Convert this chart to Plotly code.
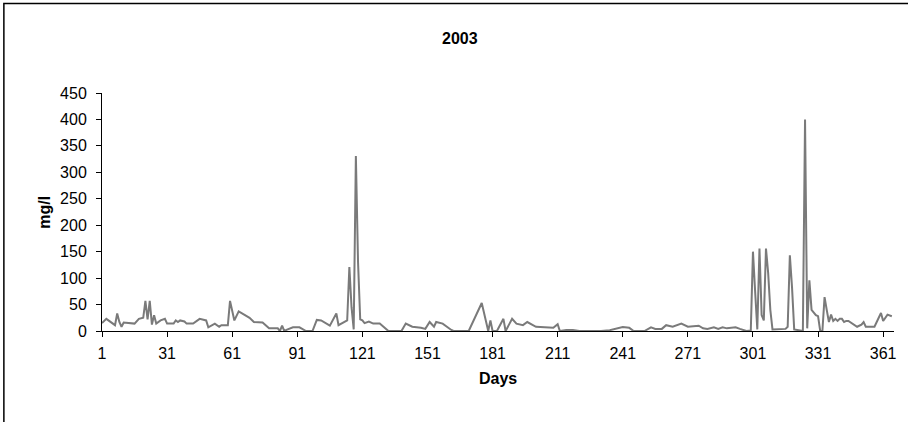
import plotly.graph_objects as go

# Daily concentration (mg/l) for 2003; straight runs between listed days
days = [1, 3, 7, 8, 9, 10, 11, 16, 18, 20, 21, 22, 23, 24, 25, 26, 28, 30, 31,
        34, 35, 36, 37, 39, 40, 43, 46, 49, 50, 53, 55, 56, 59, 60, 62, 64, 69,
        71, 75, 78, 82, 83, 84, 85, 86, 89, 92, 95, 98, 100, 102, 106, 109, 110,
        114, 115, 116, 117, 118, 119, 120, 121, 122, 124, 126, 129, 133, 138,
        139, 141, 144, 148, 150, 152, 154, 155, 158, 162, 163, 170, 176, 179,
        180, 181, 183, 186, 187, 190, 192, 195, 197, 201, 207, 209, 211, 212,
        215, 218, 221, 231, 235, 241, 244, 246, 251, 254, 256, 259, 261, 264,
        268, 271, 276, 278, 280, 283, 285, 287, 289, 293, 295, 297, 298, 300,
        301, 302, 303, 304, 305, 306, 307, 308, 309, 310, 316, 317, 318, 319,
        320, 324, 325, 326, 327, 328, 329, 330, 331, 332, 333, 334, 335, 336,
        337, 338, 339, 340, 341, 342, 343, 344, 345, 347, 349, 351, 352, 353,
        357, 360, 361, 363, 365]
mgl = [15, 23, 11, 33, 17, 8, 16, 14, 23, 25, 57, 22, 57, 12, 30, 14, 20, 23, 14,
       14, 20, 17, 20, 18, 14, 14, 23, 20, 7, 14, 8, 11, 11, 57, 20, 37, 25,
       17, 16, 5, 5, 0, 10, 0, 2, 7, 7, 0, 0, 21, 20, 10, 33, 11,
       20, 121, 45, 3, 331, 130, 22, 20, 15, 18, 14, 14, 0, 0,
       0, 14, 8, 6, 4, 17, 8, 17, 14, 2, 0, 0, 53, 0,
       20, 0, 0, 23, 0, 23, 14, 11, 17, 8, 7, 6, 13, 0,
       2, 2, 0, 0, 1.5, 7.6, 6, 0, 0, 7, 4, 4, 11, 8,
       14, 8, 10, 5, 4, 7, 4, 7, 5, 7, 4, 2, 0, 1,
       150, 75, 3, 156, 30, 20, 156, 110, 40, 3, 4, 8, 143, 83,
       3, 0, 400, 5, 96, 40, 34, 30, 28, 0, 0, 64, 40, 17,
       31, 19, 23, 19, 23, 23, 17, 19, 19, 14, 8, 12, 17, 8,
       8, 34, 19, 31, 28]

x_ticks = [1, 31, 61, 91, 121, 151, 181, 211, 241, 271, 301, 331, 361]
y_ticks = [0, 50, 100, 150, 200, 250, 300, 350, 400, 450]

FONT = "Liberation Sans, Arial, sans-serif"
L, R, T, B = 102, 11, 93, 91
W, H = 908, 422
pw, ph = W - L - R, H - T - B


def px_to_paper_x(px):
    return (px - L) / pw


def px_to_paper_y(py):
    return (H - B - py) / ph


fig = go.Figure()
fig.add_trace(go.Scatter(
    x=days, y=mgl, mode="lines",
    line=dict(color="#7a7a7a", width=2),
    cliponaxis=False, hoverinfo="skip", showlegend=False,
))

axis_common = dict(
    showgrid=False, zeroline=False, showline=True, linecolor="black",
    linewidth=1, ticks="outside", ticklen=5, tickcolor="black", tickwidth=1,
    tickfont=dict(family=FONT, size=16, color="black"), layer="below traces",
)

fig.update_layout(
    width=W, height=H,
    margin=dict(l=L, r=R, t=T, b=B),
    paper_bgcolor="white", plot_bgcolor="white",
    xaxis=dict(range=[1, 366], tickmode="array", tickvals=x_ticks,
               ticklabelstandoff=3, **axis_common),
    yaxis=dict(range=[0, 450], tickmode="array", tickvals=y_ticks,
               ticklabelstandoff=6, **axis_common),
    annotations=[
        dict(text="<b>2003</b>", x=px_to_paper_x(461), y=px_to_paper_y(28),
             xref="paper", yref="paper", showarrow=False,
             font=dict(family=FONT, size=16, color="black")),
        dict(text="<b>Days</b>", x=px_to_paper_x(499), y=px_to_paper_y(389),
             xref="paper", yref="paper", showarrow=False,
             font=dict(family=FONT, size=16, color="black")),
        dict(text="<b>mg/l</b>", x=px_to_paper_x(33), y=px_to_paper_y(212),
             xref="paper", yref="paper", showarrow=False, textangle=-90,
             font=dict(family=FONT, size=16, color="black")),
    ],
    shapes=[
        dict(type="rect", xref="paper", yref="paper",
             x0=px_to_paper_x(3.5), x1=px_to_paper_x(W + 20),
             y0=px_to_paper_y(H + 20), y1=px_to_paper_y(3.5),
             line=dict(color="black", width=1.5), layer="below"),
    ],
)

fig.write_html("out.html")
